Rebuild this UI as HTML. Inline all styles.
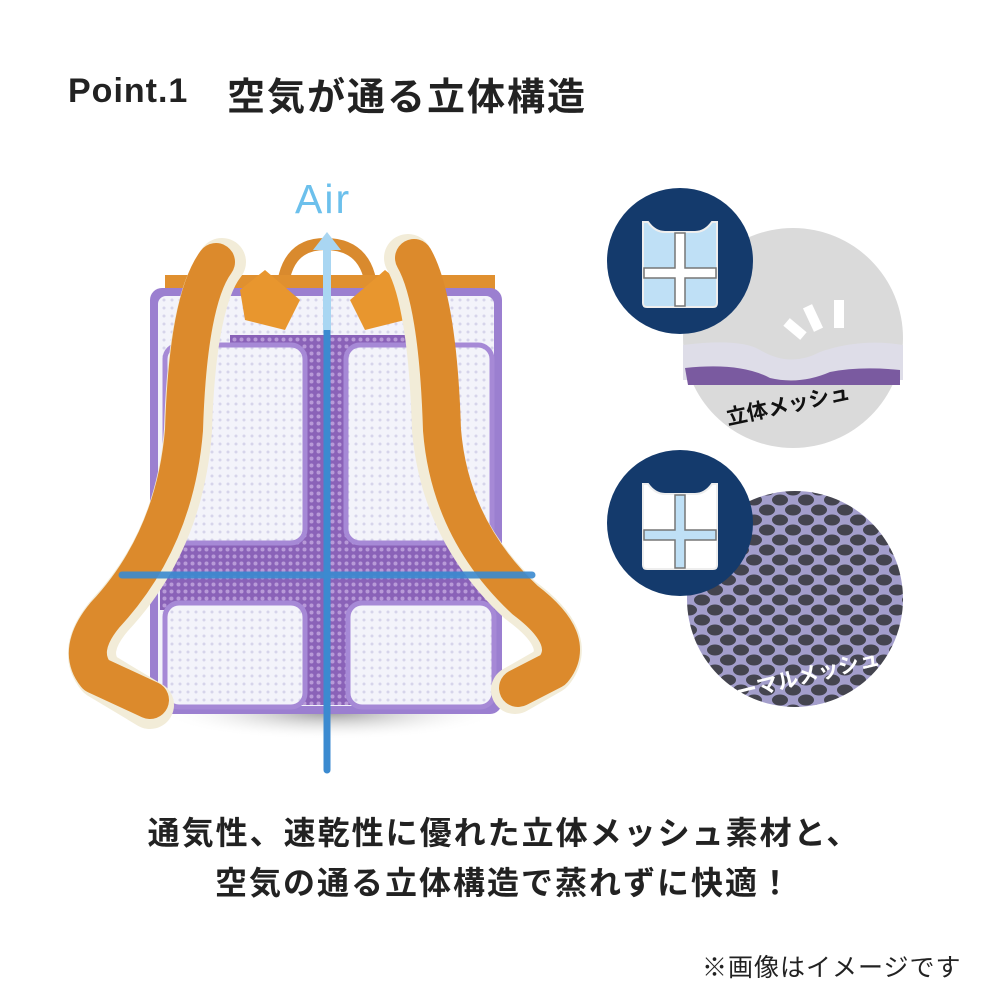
<!DOCTYPE html>
<html><head><meta charset="utf-8"><style>
html,body{margin:0;padding:0;background:#fff;}
#c{position:relative;width:1000px;height:1000px;overflow:hidden;font-family:"Liberation Sans","Noto Sans CJK JP",sans-serif;}
.t{position:absolute;white-space:nowrap;color:#222;}
</style></head><body><div id="c">
<div class="t" style="left:68px;top:72px;font-size:34px;font-weight:bold;letter-spacing:1px;">Point.1</div>
<div class="t" style="left:227px;top:66px;font-size:38px;font-weight:bold;letter-spacing:2px;">空気が通る立体構造</div>
<div class="t" style="left:295px;top:176px;font-size:41px;color:#6cc0ec;letter-spacing:2px;">Air</div>
<svg width="1000" height="1000" style="position:absolute;left:0;top:0">
<defs><radialGradient id="sh" cx="50%" cy="50%" r="50%"><stop offset="0" stop-color="#999"/><stop offset="1" stop-color="#fff" stop-opacity="0"/></radialGradient>
<pattern id="mesh" width="8" height="8" patternUnits="userSpaceOnUse"><rect width="8" height="8" fill="#f3f3fa"/><circle cx="4" cy="4" r="1.5" fill="#d6d4ea"/></pattern>
<pattern id="pm" width="7" height="7" patternUnits="userSpaceOnUse"><rect width="7" height="7" fill="#8a62b8"/><circle cx="3.5" cy="3.5" r="2" fill="#b89ad8"/></pattern>
<pattern id="nm" width="26" height="20" patternUnits="userSpaceOnUse"><rect width="26" height="20" fill="#a39ecb"/><ellipse cx="13" cy="10" rx="8" ry="5.5" fill="#44444f"/><ellipse cx="0" cy="0" rx="8" ry="5.5" fill="#44444f"/><ellipse cx="26" cy="0" rx="8" ry="5.5" fill="#44444f"/><ellipse cx="0" cy="20" rx="8" ry="5.5" fill="#44444f"/><ellipse cx="26" cy="20" rx="8" ry="5.5" fill="#44444f"/></pattern>
</defs>
<ellipse cx="330" cy="712" rx="170" ry="28" fill="url(#sh)"/>
<path d="M282 300 Q282 244 325 244 Q372 244 372 300" fill="none" stroke="#d98a2e" stroke-width="12"/>
<rect x="165" y="275" width="330" height="40" fill="#e0902f"/>
<rect x="150" y="288" width="352" height="426" rx="12" fill="#9b7fd0"/>
<rect x="158" y="296" width="336" height="410" rx="8" fill="url(#mesh)"/>
<rect x="230" y="335" width="200" height="370" fill="url(#pm)"/>
<rect x="160" y="540" width="335" height="70" fill="url(#pm)"/>
<rect x="165" y="345" width="140" height="198" rx="14" fill="url(#mesh)" stroke="#a689d6" stroke-width="5"/>
<rect x="346" y="345" width="146" height="198" rx="14" fill="url(#mesh)" stroke="#a689d6" stroke-width="5"/>
<rect x="165" y="603" width="140" height="104" rx="14" fill="url(#mesh)" stroke="#a689d6" stroke-width="5"/>
<rect x="348" y="603" width="146" height="104" rx="14" fill="url(#mesh)" stroke="#a689d6" stroke-width="5"/>
<path d="M240 290 L265 270 L300 300 L285 330 L245 320Z" fill="#e8962e"/>
<path d="M410 290 L385 270 L350 300 L365 330 L405 320Z" fill="#e8962e"/>
<path d="M222 262 Q192 300 188 430 Q180 540 110 615 Q80 650 100 675 L150 705" fill="none" stroke="#f2ecd8" stroke-width="48" stroke-linejoin="round" stroke-linecap="round"/>
<path d="M216 262 Q188 300 184 430 Q175 540 105 615 Q76 650 96 675 L150 700" fill="none" stroke="#dc8a2c" stroke-width="38" stroke-linejoin="round" stroke-linecap="round"/>
<path d="M408 258 Q432 300 436 430 Q445 530 520 600 Q575 640 550 670 L515 690" fill="none" stroke="#f2ecd8" stroke-width="48" stroke-linejoin="round" stroke-linecap="round"/>
<path d="M414 258 Q438 300 442 430 Q450 530 525 600 Q578 640 553 670 L518 688" fill="none" stroke="#dc8a2c" stroke-width="38" stroke-linejoin="round" stroke-linecap="round"/>
<line x1="122" y1="575" x2="532" y2="575" stroke="#3b8ad0" stroke-width="7" stroke-linecap="round" opacity=".9"/>
<line x1="327" y1="248" x2="327" y2="770" stroke="#3b8ad0" stroke-width="7" stroke-linecap="round"/>
<line x1="327" y1="248" x2="327" y2="330" stroke="#a9d6f2" stroke-width="8"/>
<path d="M313 250 L327 232 L341 250Z" fill="#a9d6f2"/>
<circle cx="793" cy="338" r="110" fill="#dadada"/>
<path d="M683 345 Q740 338 760 350 Q790 368 820 352 Q860 338 903 345 L903 380 L683 380Z" fill="#dedde8"/>
<path d="M685 368 Q740 362 770 378 Q800 385 830 372 Q860 366 900 370 L900 385 L688 385Z" fill="#7a5aa0"/>
<g fill="#fff"><rect x="790" y="318" width="10" height="22" transform="rotate(-50 795 329)"/><rect x="808" y="305" width="10" height="26" transform="rotate(-25 813 318)"/><rect x="834" y="300" width="10" height="28"/></g>
<text x="0" y="0" font-size="21" font-weight="bold" fill="#111" transform="translate(728 425) rotate(-12)" font-family="Liberation Sans,Noto Sans CJK JP,sans-serif">立体メッシュ</text>
<circle cx="795" cy="599" r="108" fill="url(#nm)"/>
<text x="0" y="0" font-size="21" font-weight="bold" fill="#fff" transform="translate(718 705) rotate(-14)" font-family="Liberation Sans,Noto Sans CJK JP,sans-serif">ノーマルメッシュ</text>
<g>
<circle cx="680" cy="261" r="73" fill="#143a6c"/>
<path d="M643 222 L648 222 Q655 232 665 232 L695 232 Q705 232 712 222 L717 222 L717 303 Q717 307 713 307 L647 307 Q643 307 643 303Z" fill="#bfe0f6" stroke="#eee" stroke-width="2"/>
<path d="M675 233 L685 233 L685 268 L716 268 L716 278 L685 278 L685 306 L675 306 L675 278 L644 278 L644 268 L675 268Z" fill="#fff" stroke="#777" stroke-width="1.5"/>
</g>
<g>
<circle cx="680" cy="523" r="73" fill="#143a6c"/>
<path d="M643 484 L648 484 Q655 494 665 494 L695 494 Q705 494 712 484 L717 484 L717 565 Q717 569 713 569 L647 569 Q643 569 643 565Z" fill="#fff" stroke="#eee" stroke-width="2"/>
<path d="M675 495 L685 495 L685 530 L716 530 L716 540 L685 540 L685 568 L675 568 L675 540 L644 540 L644 530 L675 530Z" fill="#bfe0f6" stroke="#777" stroke-width="1.5"/>
</g>
</svg>
<div class="t" style="left:4px;width:1000px;text-align:center;top:808px;font-size:32px;font-weight:bold;letter-spacing:2px;">通気性、速乾性に優れた立体メッシュ素材と、</div>
<div class="t" style="left:4px;width:1000px;text-align:center;top:858px;font-size:32px;font-weight:bold;letter-spacing:2px;">空気の通る立体構造で蒸れずに快適！</div>
<div class="t" style="left:702px;top:948px;font-size:25px;letter-spacing:1px;">※画像はイメージです</div>
</div></body></html>
